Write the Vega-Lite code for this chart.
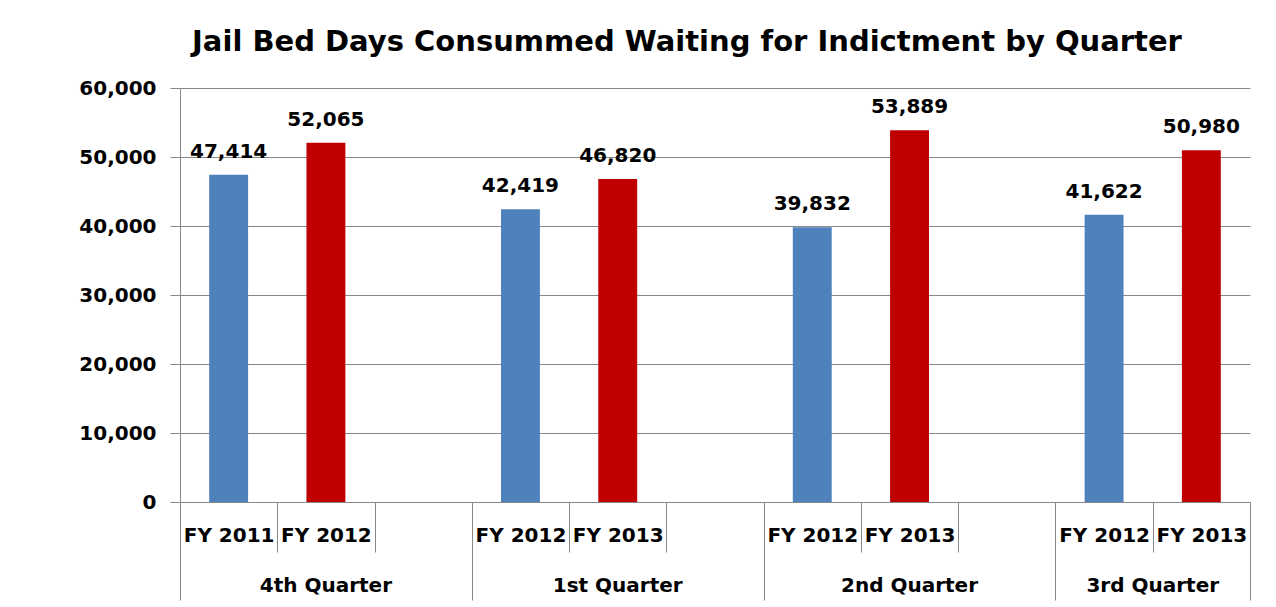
{
  "$schema": "https://vega.github.io/schema/vega-lite/v6.json",
  "width": 1070,
  "height": 414,
  "autosize": "none",
  "padding": {"left": 180, "top": 88, "right": 26, "bottom": 105},
  "background": "white",
  "title": {
    "text": "Jail Bed Days Consummed Waiting for Indictment by Quarter",
    "font": "DejaVu Sans",
    "fontSize": 29,
    "fontWeight": "bold",
    "color": "#000000",
    "anchor": "middle",
    "offset": 21,
    "dx": -28
  },
  "config": {
    "view": {"stroke": null},
    "axis": {
      "labelFont": "DejaVu Sans",
      "labelFontSize": 20,
      "labelFontWeight": "bold",
      "labelColor": "#000000",
      "domainColor": "#888888",
      "tickColor": "#888888",
      "gridColor": "#888888",
      "titleColor": "#000000"
    }
  },
  "data": {
    "values": [
      {"label": "4th Quarter|FY 2011", "quarter": "4th Quarter", "year": "FY 2011", "series": "Earlier FY", "days": 47414},
      {"label": "4th Quarter|FY 2012", "quarter": "4th Quarter", "year": "FY 2012", "series": "Later FY", "days": 52065},
      {"label": "1st Quarter|FY 2012", "quarter": "1st Quarter", "year": "FY 2012", "series": "Earlier FY", "days": 42419},
      {"label": "1st Quarter|FY 2013", "quarter": "1st Quarter", "year": "FY 2013", "series": "Later FY", "days": 46820},
      {"label": "2nd Quarter|FY 2012", "quarter": "2nd Quarter", "year": "FY 2012", "series": "Earlier FY", "days": 39832},
      {"label": "2nd Quarter|FY 2013", "quarter": "2nd Quarter", "year": "FY 2013", "series": "Later FY", "days": 53889},
      {"label": "3rd Quarter|FY 2012", "quarter": "3rd Quarter", "year": "FY 2012", "series": "Earlier FY", "days": 41622},
      {"label": "3rd Quarter|FY 2013", "quarter": "3rd Quarter", "year": "FY 2013", "series": "Later FY", "days": 50980}
    ]
  },
  "layer": [
    {
      "mark": {"type": "bar", "width": {"band": 0.4}},
      "encoding": {
        "x": {
          "field": "label",
          "type": "nominal",
          "sort": null,
          "scale": {
            "domain": ["4th Quarter|FY 2011", "4th Quarter|FY 2012", "4th Quarter|", "1st Quarter|FY 2012", "1st Quarter|FY 2013", "1st Quarter|", "2nd Quarter|FY 2012", "2nd Quarter|FY 2013", "2nd Quarter|", "3rd Quarter|FY 2012", "3rd Quarter|FY 2013"],
            "paddingInner": 0,
            "paddingOuter": 0
          },
          "axis": {
            "orient": "bottom",
            "title": null,
            "tickBand": "extent",
            "labelAngle": 0,
            "labelAlign": "center",
            "labelBaseline": "middle",
            "labelOverlap": false,
            "labelBound": false,
            "labelExpr": "split(datum.value, '|')[1]",
            "tickSize": {"condition": {"test": "datum.extra || indexof(['4th Quarter|', '1st Quarter|', '2nd Quarter|', '3rd Quarter|FY 2013'], datum.value) >= 0", "value": 98}, "value": 50},
            "labelPadding": {"condition": {"test": "datum.extra || indexof(['4th Quarter|', '1st Quarter|', '2nd Quarter|', '3rd Quarter|FY 2013'], datum.value) >= 0", "value": -65}, "value": -17}
          }
        },
        "y": {
          "field": "days",
          "type": "quantitative",
          "scale": {"domain": [0, 60000], "nice": false},
          "axis": {
            "title": null,
            "values": [0, 10000, 20000, 30000, 40000, 50000, 60000],
            "format": ",d",
            "grid": true,
            "tickSize": 10,
            "labelPadding": 14
          }
        },
        "color": {
          "field": "series",
          "type": "nominal",
          "scale": {"domain": ["Earlier FY", "Later FY"], "range": ["#4F81BD", "#C00000"]},
          "legend": null
        }
      }
    },
    {
      "mark": {"type": "text", "font": "DejaVu Sans", "fontSize": 20, "fontWeight": "bold", "color": "#000000", "baseline": "alphabetic", "dy": -17},
      "encoding": {
        "x": {
          "field": "label",
          "type": "nominal",
          "sort": null,
          "scale": {
            "domain": ["4th Quarter|FY 2011", "4th Quarter|FY 2012", "4th Quarter|", "1st Quarter|FY 2012", "1st Quarter|FY 2013", "1st Quarter|", "2nd Quarter|FY 2012", "2nd Quarter|FY 2013", "2nd Quarter|", "3rd Quarter|FY 2012", "3rd Quarter|FY 2013"],
            "paddingInner": 0,
            "paddingOuter": 0
          },
          "axis": {
            "orient": "bottom",
            "title": null,
            "values": ["4th Quarter|FY 2012", "1st Quarter|FY 2013", "2nd Quarter|FY 2013", "3rd Quarter|FY 2013"],
            "ticks": false,
            "tickSize": 0,
            "domain": false,
            "labelAngle": 0,
            "labelAlign": "center",
            "labelBaseline": "middle",
            "labelOverlap": false,
            "labelBound": false,
            "labelPadding": 83,
            "labelExpr": "split(datum.value, '|')[0]",
            "labelOffset": {"condition": {"test": "datum.value == '3rd Quarter|FY 2013'", "value": -48.6}, "value": 0}
          }
        },
        "y": {"field": "days", "type": "quantitative"},
        "text": {"field": "days", "type": "quantitative", "format": ",d"}
      }
    }
  ],
  "resolve": {"axis": {"x": "independent"}}
}
